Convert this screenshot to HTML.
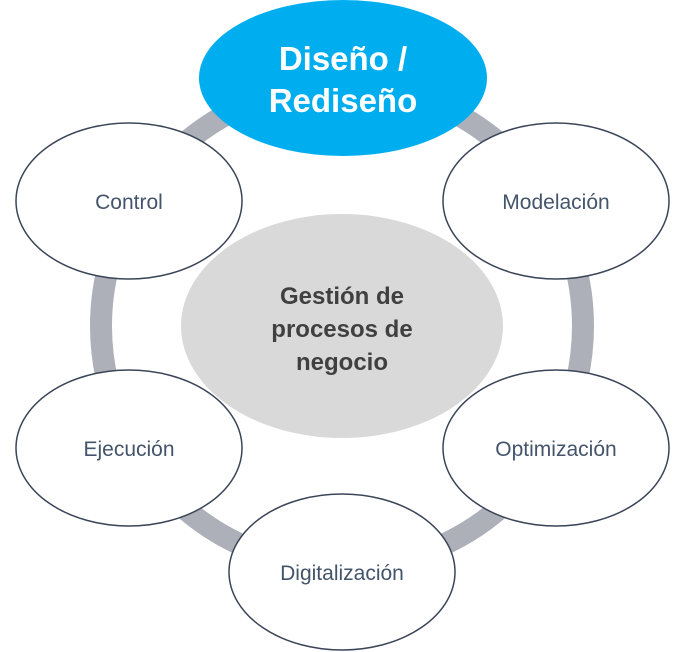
<!DOCTYPE html>
<html><head><meta charset="utf-8"><style>
html,body{margin:0;padding:0;background:#fff;}
svg{display:block;}
text{font-family:"Liberation Sans",sans-serif;}
</style></head><body>
<svg width="684" height="652" viewBox="0 0 684 652" xmlns="http://www.w3.org/2000/svg">
<circle cx="342" cy="326" r="241" fill="none" stroke="#adb0b8" stroke-width="22"/>
<ellipse cx="342" cy="326" rx="161" ry="112" fill="#d9d9d9"/>
<text text-anchor="middle" font-size="24" font-weight="bold" fill="#404040">
<tspan x="342" y="304">Gestión de</tspan><tspan x="342" y="337">procesos de</tspan><tspan x="342" y="370">negocio</tspan></text>
<ellipse cx="343" cy="78" rx="144" ry="78" fill="#00aeef"/>
<text text-anchor="middle" font-size="33" font-weight="bold" fill="#fff">
<tspan x="343" y="70">Diseño /</tspan><tspan x="343" y="112">Rediseño</tspan></text>
<g fill="#fff" stroke="#3a4558" stroke-width="1.5">
<ellipse cx="129" cy="201" rx="113" ry="78"/>
<ellipse cx="556" cy="201" rx="113" ry="78"/>
<ellipse cx="129" cy="448" rx="113" ry="78"/>
<ellipse cx="556" cy="448" rx="113" ry="78"/>
<ellipse cx="342" cy="572" rx="113" ry="78"/>
</g>
<g text-anchor="middle" font-size="21" fill="#44546a">
<text x="129" y="209">Control</text>
<text x="556" y="209">Modelación</text>
<text x="129" y="456">Ejecución</text>
<text x="556" y="456">Optimización</text>
<text x="342" y="580">Digitalización</text>
</g>
</svg>
</body></html>
